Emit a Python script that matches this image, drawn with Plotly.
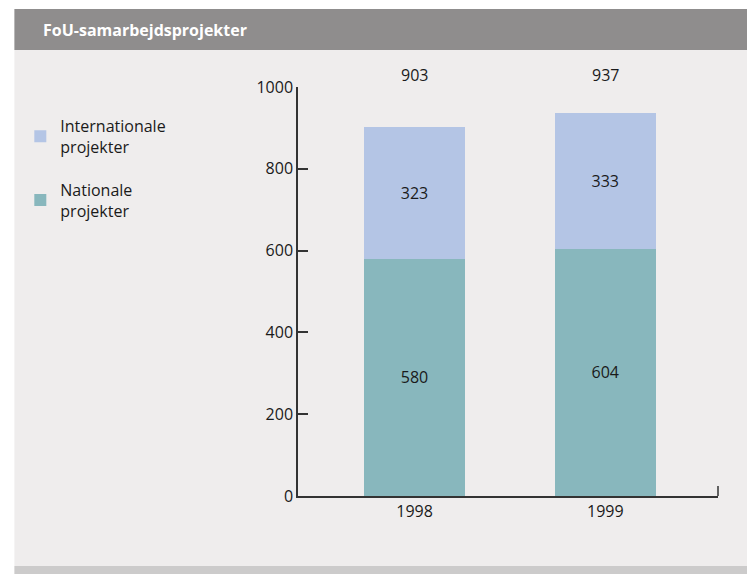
import plotly.graph_objects as go

years = ["1998", "1999"]
nationale = [580, 604]
internationale = [323, 333]
totals = [n + i for n, i in zip(nationale, internationale)]
yticks = [0, 200, 400, 600, 800, 1000]
title = "FoU-samarbejdsprojekter"

OFF = 8  # page body margin
W, H = 755 - OFF, 574 - OFF
L, R, T, B = 285, 37, 79, 78
pw, ph = W - L - R, H - T - B

def px_x(p):
    return (p - OFF - L) / pw

def px_y(p):
    return (H - B - (p - OFF)) / ph

FONT = "Open Sans"
xpos = list(range(len(years)))

fig = go.Figure()
fig.add_trace(go.Bar(
    x=xpos, y=nationale, name="Nationale<br>projekter", legendgroup="n", legendrank=2,
    marker=dict(color="#88b7bd", line=dict(width=0)),
    text=[str(v) for v in nationale], textposition="inside",
    insidetextanchor="middle", textangle=0,
    insidetextfont=dict(color="#1a1a1a", size=16, family=FONT),
    width=0.528, hoverinfo="skip"))
fig.add_trace(go.Bar(
    x=xpos, y=internationale, name="Internationale<br>projekter", legendgroup="i", legendrank=1,
    marker=dict(color="#b4c5e5", line=dict(width=0)),
    text=[str(v) for v in internationale], textposition="inside",
    insidetextanchor="middle", textangle=0,
    insidetextfont=dict(color="#1a1a1a", size=16, family=FONT),
    width=0.528, hoverinfo="skip"))

shapes = [
    dict(type="rect", xref="paper", yref="paper", x0=px_x(6), x1=px_x(770),
         y0=px_y(9), y1=px_y(50), fillcolor="#8f8d8d", line=dict(width=0), layer="below"),
    dict(type="rect", xref="paper", yref="paper", x0=px_x(6), x1=px_x(770),
         y0=px_y(50), y1=px_y(566), fillcolor="#efeded", line=dict(width=0), layer="below"),
    dict(type="rect", xref="paper", yref="paper", x0=px_x(6), x1=px_x(770),
         y0=px_y(566), y1=px_y(590), fillcolor="#cccbcb", line=dict(width=0), layer="below"),
    dict(type="line", xref="paper", yref="paper", x0=1, x1=1, y0=0, y1=10 / ph,
         line=dict(color="#333333", width=1.5)),
]

annotations = [
    dict(text="<b>" + title + "</b>", xref="paper", yref="paper", x=px_x(33), y=px_y(30),
         xanchor="left", yanchor="middle", showarrow=False,
         font=dict(color="white", size=16, family=FONT)),
]
for xp, t in zip(xpos, totals):
    annotations.append(dict(text=str(t), x=xp, xref="x", yref="paper", y=px_y(75),
                            xanchor="center", yanchor="middle", showarrow=False,
                            font=dict(color="#1a1a1a", size=16, family=FONT)))

fig.update_layout(
    width=W, height=H,
    margin=dict(l=L, r=R, t=T, b=B),
    paper_bgcolor="white", plot_bgcolor="rgba(0,0,0,0)",
    barmode="stack",
    font=dict(family=FONT, size=16, color="#1a1a1a"),
    shapes=shapes, annotations=annotations,
    showlegend=True,
    legend=dict(x=px_x(12), xanchor="left", y=px_y(109), yanchor="top",
                traceorder="grouped", tracegroupgap=19,
                bgcolor="rgba(0,0,0,0)", font=dict(size=16, family=FONT, color="#1a1a1a"),
                itemclick=False, itemdoubleclick=False),
    xaxis=dict(range=[-0.611, 1.591], tickvals=xpos, ticktext=years,
               showline=True, linecolor="#333333", linewidth=1.5, ticks="",
               showgrid=False, zeroline=False, fixedrange=True,
               tickfont=dict(size=16, family=FONT, color="#1a1a1a")),
    yaxis=dict(range=[0, 1000], tickvals=yticks, ticks="inside", ticklen=10,
               tickcolor="#333333", tickwidth=1.5,
               showline=True, linecolor="#333333", linewidth=1.5,
               showgrid=False, zeroline=False, fixedrange=True,
               tickfont=dict(size=16, family=FONT, color="#1a1a1a")),
)

fig.write_html("out.html")
